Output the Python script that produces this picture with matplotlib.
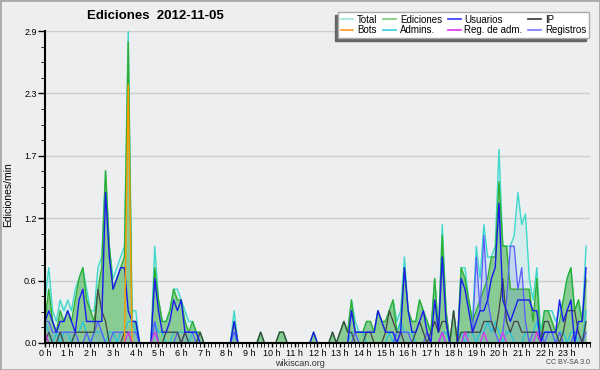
import numpy as np
import matplotlib
matplotlib.use("Agg")
import matplotlib.pyplot as plt
from matplotlib.lines import Line2D
from matplotlib.patches import Rectangle

# counts per 10-minute slot, 5 Nov 2012 (4 hours per row)
total = [4, 7, 3, 2, 4, 3,  4, 3, 5, 6, 7, 5,  3, 3, 7, 8, 16, 9,  6, 7, 8, 9, 29, 3,
         3, 0, 0, 0, 0, 9,  4, 2, 2, 3, 5, 5,  4, 3, 2, 2, 1, 1,  0, 0, 0, 0, 0, 0,
         0, 0, 3, 0, 0, 0,  0, 0, 0, 1, 0, 0,  0, 0, 1, 1, 0, 0,  0, 0, 0, 0, 0, 1,
         0, 0, 0, 0, 1, 0,  1, 2, 1, 4, 2, 1,  1, 2, 2, 1, 3, 2,  2, 3, 4, 2, 3, 8,
         3, 2, 2, 4, 3, 2,  1, 6, 1, 11, 3, 0,  3, 0, 7, 7, 4, 2,  9, 6, 11, 8, 8, 9,
         18, 9, 9, 9, 10, 14,  11, 12, 6, 4, 7, 1,  3, 3, 3, 2, 3, 4,  6, 7, 3, 4, 2, 9]
ediciones = [2, 5, 2, 1, 3, 2,  3, 2, 4, 6, 7, 4,  3, 2, 5, 7, 16, 9,  5, 6, 7, 8, 28, 2,
             2, 0, 0, 0, 0, 7,  4, 2, 2, 3, 5, 4,  4, 2, 1, 2, 1, 1,  0, 0, 0, 0, 0, 0,
             0, 0, 2, 0, 0, 0,  0, 0, 0, 1, 0, 0,  0, 0, 1, 1, 0, 0,  0, 0, 0, 0, 0, 1,
             0, 0, 0, 0, 1, 0,  1, 2, 1, 4, 1, 1,  1, 2, 2, 1, 3, 2,  2, 3, 4, 1, 2, 7,
             3, 2, 2, 4, 3, 2,  1, 6, 1, 10, 3, 0,  3, 0, 7, 6, 4, 2,  3, 4, 5, 6, 8, 8,
             15, 9, 9, 5, 5, 5,  5, 5, 5, 2, 6, 0,  3, 3, 2, 1, 2, 4,  6, 7, 3, 4, 2, 6]
usuarios = [2, 3, 2, 1, 2, 2,  3, 2, 1, 4, 5, 2,  2, 2, 2, 2, 14, 8,  5, 6, 7, 7, 3, 2,
            2, 0, 0, 0, 0, 6,  3, 1, 1, 2, 4, 3,  4, 1, 1, 1, 1, 0,  0, 0, 0, 0, 0, 0,
            0, 0, 2, 0, 0, 0,  0, 0, 0, 0, 0, 0,  0, 0, 0, 0, 0, 0,  0, 0, 0, 0, 0, 1,
            0, 0, 0, 0, 0, 0,  0, 0, 0, 3, 1, 1,  1, 1, 1, 1, 3, 2,  1, 1, 1, 0, 1, 7,
            3, 1, 1, 2, 3, 1,  0, 4, 1, 8, 2, 0,  0, 0, 6, 5, 3, 1,  2, 3, 3, 4, 6, 7,
            13, 4, 3, 2, 3, 4,  4, 4, 4, 3, 3, 0,  1, 1, 1, 1, 4, 2,  3, 4, 0, 2, 2, 7]
ip = [0, 1, 0, 0, 1, 0,  0, 0, 1, 1, 1, 1,  1, 1, 5, 3, 2, 0,  0, 0, 0, 1, 1, 0,
      0, 0, 0, 0, 0, 0,  0, 0, 1, 1, 1, 1,  0, 1, 0, 0, 0, 1,  0, 0, 0, 0, 0, 0,
      0, 0, 0, 0, 0, 0,  0, 0, 0, 1, 0, 0,  0, 0, 1, 1, 0, 0,  0, 0, 0, 0, 0, 0,
      0, 0, 0, 0, 1, 0,  1, 2, 1, 1, 0, 0,  0, 1, 1, 0, 0, 0,  1, 3, 2, 1, 1, 0,
      0, 0, 1, 2, 1, 0,  1, 2, 1, 2, 2, 0,  3, 0, 1, 1, 1, 1,  1, 1, 2, 2, 2, 1,
      3, 6, 2, 1, 2, 2,  1, 1, 1, 1, 1, 0,  2, 2, 1, 1, 0, 1,  3, 3, 3, 1, 0, 2]
bots = [0] * 22 + [24] + [0] * 121
admins = [2, 1, 0, 1, 0, 1,  1, 0, 1, 1, 2, 1,  0, 1, 1, 1, 0, 1,  1, 0, 1, 1, 2, 2,
          1, 0, 0, 0, 0, 2,  1, 1, 0, 0, 1, 1,  1, 1, 0, 1, 1, 0,  0, 0, 0, 0, 0, 0,
          0, 0, 1, 0, 0, 0,  0, 0, 0, 0, 0, 0,  0, 0, 0, 0, 0, 0,  0, 0, 0, 0, 0, 0,
          0, 0, 0, 0, 0, 0,  0, 0, 0, 1, 1, 1,  1, 0, 0, 0, 0, 0,  0, 1, 0, 1, 2, 1,
          1, 1, 0, 0, 0, 0,  0, 0, 0, 1, 1, 0,  0, 0, 1, 0, 1, 1,  0, 1, 1, 2, 1, 2,
          1, 0, 1, 1, 0, 0,  0, 1, 1, 1, 2, 0,  1, 1, 1, 0, 1, 1,  0, 1, 1, 0, 0, 3]
reg_adm = [1, 0, 0, 0, 0, 0,  0, 0, 0, 0, 0, 0,  0, 0, 0, 0, 0, 0,  0, 0, 0, 0, 1, 0,
           0, 0, 0, 0, 0, 1,  0, 0, 0, 0, 0, 0,  0, 0, 0, 0, 0, 0,  0, 0, 0, 0, 0, 0,
           0, 0, 0, 0, 0, 0,  0, 0, 0, 0, 0, 0,  0, 0, 0, 0, 0, 0,  0, 0, 0, 0, 0, 0,
           0, 0, 0, 0, 0, 0,  0, 0, 0, 0, 0, 0,  0, 0, 0, 0, 0, 0,  0, 0, 0, 0, 0, 0,
           0, 0, 0, 0, 0, 0,  0, 0, 0, 1, 0, 0,  0, 0, 0, 1, 0, 0,  0, 0, 1, 0, 0, 0,
           0, 1, 0, 0, 0, 0,  0, 0, 0, 0, 1, 0,  0, 0, 0, 0, 0, 0,  0, 0, 0, 0, 0, 0]
registros = [2, 2, 1, 1, 1, 1,  1, 1, 1, 0, 0, 1,  0, 1, 2, 1, 0, 0,  1, 1, 1, 1, 1, 1,
             1, 0, 0, 0, 0, 2,  0, 0, 0, 0, 0, 1,  0, 1, 1, 1, 0, 0,  0, 0, 0, 0, 0, 0,
             0, 0, 1, 0, 0, 0,  0, 0, 0, 0, 0, 0,  0, 0, 0, 0, 0, 0,  0, 0, 0, 0, 0, 0,
             0, 0, 0, 0, 0, 0,  0, 0, 0, 0, 1, 0,  0, 0, 0, 0, 0, 0,  0, 0, 0, 1, 1, 1,
             1, 0, 0, 0, 0, 1,  0, 0, 0, 1, 0, 0,  0, 0, 0, 1, 1, 1,  8, 3, 10, 4, 2, 1,
             0, 1, 4, 9, 9, 5,  7, 2, 0, 1, 1, 1,  0, 1, 1, 0, 1, 0,  0, 0, 1, 1, 0, 1]

hour_labels = [f"{h} h" for h in range(24)]

# slot index -> hours, counts per 10 min -> per minute
t = np.arange(len(total)) / 6.0
per_min = lambda s: np.array(s) / 10.0

fig = plt.figure(figsize=(6, 3.7), dpi=100, facecolor="#eeeeee")
ax = fig.add_axes([0.075, 0.073, 0.908, 0.843])
ax.set_facecolor("#eceef0")

ax.fill_between(t, per_min(total), color="#3fd9cc", alpha=0.12, lw=0)
ax.fill_between(t, per_min(ediciones), color="#33aa33", alpha=0.48, lw=0)
ax.fill_between(t, per_min(registros), color="#6a8cff", alpha=0.18, lw=0)

ax.plot(t, per_min(total), color="#3fd9cc", lw=1.0)
ax.plot(t, per_min(ediciones), color="#2fae2f", lw=1.0)
ax.plot(t, per_min(admins), color="#22c4e0", lw=0.9)
ax.plot(t, per_min(registros), color="#5a5aff", lw=0.9)
ax.plot(t, per_min(ip), color="#444444", lw=0.9)
ax.plot(t, per_min(usuarios), color="#1a1aee", lw=1.0)
ax.plot(t, per_min(bots), color="#ff9900", lw=1.0)
ax.plot(t, per_min(reg_adm), color="#dd33ee", lw=0.9)

ax.set_xlim(0, 24)
ax.set_ylim(0, 2.9)
ax.set_xticks(range(24))
ax.set_xticklabels(hour_labels)
ax.set_xticks(np.arange(0, 24.01, 1 / 6.0), minor=True)
yt = np.linspace(0, 2.9, 6)
ax.set_yticks(yt)
ax.set_yticklabels([f"{v:.1f}" for v in yt])
ax.set_yticks(np.arange(0, 2.91, 2.9 / 20), minor=True)
ax.tick_params(axis="both", direction="out", labelsize=6.5, width=1, pad=1)
ax.tick_params(axis="x", which="both", length=3)
ax.tick_params(axis="y", which="major", length=5)
ax.tick_params(axis="y", which="minor", length=3)
for lbl in ax.get_xticklabels() + ax.get_yticklabels():
    lbl.set_family("Liberation Sans")

ax.grid(axis="y", color="#cccccc", lw=1)
ax.set_axisbelow(True)
for s in ("top", "right"):
    ax.spines[s].set_visible(False)
for s in ("left", "bottom"):
    ax.spines[s].set_linewidth(1.5)

fig.text(155 / 600, 1 - 16 / 370, "Ediciones  2012-11-05", ha="center", va="center",
         fontsize=9.5, fontweight="bold", family="Liberation Sans")
fig.text(8 / 600, 1 - 195 / 370, "Ediciones/min", rotation=90, ha="center", va="center",
         fontsize=7.5, family="Liberation Sans")
fig.text(300 / 600, 1 - 363 / 370, "wikiscan.org", ha="center", va="center",
         fontsize=6.5, family="Liberation Sans", color="#333333")
fig.text(590 / 600, 1 - 363 / 370, "CC BY-SA 3.0", ha="right", va="center",
         fontsize=5, family="Liberation Sans", color="#444444")

handles = [Line2D([], [], color=c, lw=1.2) for c in
           ["#99e6dd", "#ff9922", "#77cc77", "#33ccdd", "#3333ff", "#dd33ee", "#333333", "#7777ff"]]
labels = ["Total", "Bots", "Ediciones", "Admins.", "Usuarios", "Reg. de adm.", "IP", "Registros"]
leg = fig.legend(handles, labels, ncol=4, loc="upper right",
                 bbox_to_anchor=(594 / 600, 1 - 7 / 370), frameon=True, fancybox=False,
                 edgecolor="#aaaaaa", framealpha=1, handlelength=1.3, handletextpad=0.4,
                 columnspacing=0.6, labelspacing=0.05, borderpad=0.3,
                 prop={"family": "Liberation Sans", "size": 7})
leg.get_frame().set_linewidth(1)
leg.set_zorder(5)

# shadow of the legend box, offset down-left
fig.canvas.draw()
bb = leg.get_window_extent()
fig.patches.append(Rectangle(((bb.x0 - 3) / 600, (bb.y0 - 3) / 370), bb.width / 600, bb.height / 370,
                             transform=fig.transFigure, color="#666666", zorder=4))
fig.patches.append(Rectangle((0, 0), 1, 1, transform=fig.transFigure, fill=False,
                             edgecolor="#aaaaaa", lw=2, zorder=10))

fig.savefig("out.png", dpi=100, facecolor=fig.get_facecolor())
